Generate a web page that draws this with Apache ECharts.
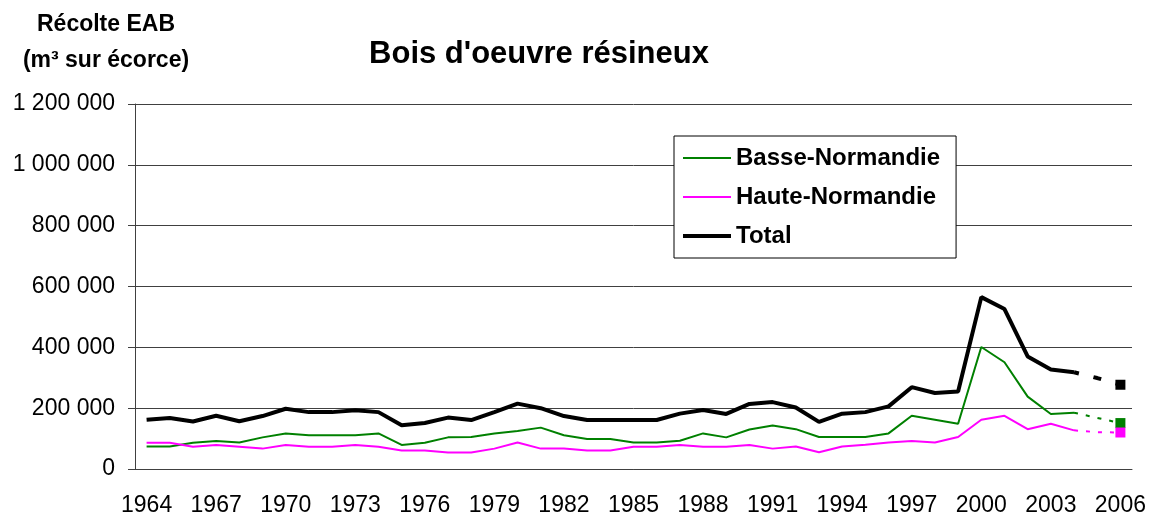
<!DOCTYPE html>
<html lang="fr">
<head>
    <meta charset="utf-8">
    <title>Bois d'oeuvre résineux</title>
    <script src="https://cdn.jsdelivr.net/npm/echarts@6/dist/echarts.min.js"></script>
    <style type="text/css">
        html, body { margin: 0; padding: 0; background: #fff; }
        #chart { width: 1150px; height: 517px; }
    </style>
</head>
<body>
    <div id="chart"></div>
    <script>
        // années 1964 -> 2006
        var years = ['1964', '1965', '1966', '1967', '1968', '1969', '1970', '1971', '1972', '1973',
            '1974', '1975', '1976', '1977', '1978', '1979', '1980', '1981', '1982', '1983',
            '1984', '1985', '1986', '1987', '1988', '1989', '1990', '1991', '1992', '1993',
            '1994', '1995', '1996', '1997', '1998', '1999', '2000', '2001', '2002', '2003',
            '2004', '2005', '2006'];

        // récolte observée 1964 -> 2004 (m3 sur écorce)
        var basseNormandie = [74000, 74000, 86000, 92000, 87000, 104000, 117000, 111000, 111000, 111000,
            117000, 79000, 86000, 104000, 105000, 117000, 125000, 136000, 111000, 99000,
            99000, 87000, 87000, 93000, 117000, 104000, 130000, 143000, 131000, 105000,
            105000, 105000, 117000, 175000, 162000, 149000, 401000, 351000, 238000, 181000,
            185000];
        var hauteNormandie = [86000, 86000, 73000, 79000, 73000, 67000, 79000, 73000, 73000, 79000,
            73000, 61000, 61000, 54000, 54000, 67000, 87000, 67000, 67000, 61000,
            61000, 73000, 73000, 79000, 73000, 73000, 79000, 67000, 74000, 55000,
            74000, 80000, 87000, 92000, 87000, 105000, 162000, 175000, 131000, 149000,
            127000];
        var total = [162000, 168000, 156000, 175000, 157000, 174000, 198000, 187000, 187000, 193000,
            187000, 144000, 151000, 169000, 161000, 187000, 215000, 200000, 174000, 161000,
            161000, 161000, 161000, 182000, 194000, 181000, 214000, 220000, 202000, 155000,
            182000, 187000, 206000, 269000, 250000, 255000, 565000, 526000, 370000, 327000,
            318000];

        // prolongement 2004 -> 2006 (pointillés)
        var basseProj = [185000, 168000, 151000];
        var hauteProj = [127000, 121000, 120000];
        var totalProj = [318000, 299000, 277000];

        var font = 'Liberation Sans, Arial, sans-serif';

        function fmt(v) {
            return String(v).replace(/\B(?=(\d{3})+(?!\d))/g, ' ');
        }

        function proj(vals) {
            var out = [];
            var start = years.length - vals.length;
            for (var i = 0; i < years.length; i++) {
                if (i < start) {
                    out.push(null);
                } else if (i === years.length - 1) {
                    out.push({ value: vals[i - start], symbol: 'rect', symbolSize: 10 });
                } else {
                    out.push(vals[i - start]);
                }
            }
            return out;
        }

        function mainLine(name, data, color, width) {
            return {
                name: name,
                type: 'line',
                data: data,
                symbol: 'none',
                animation: false,
                lineStyle: { color: color, width: width },
                itemStyle: { color: color }
            };
        }

        function dashLine(name, data, color, width, dash, offset) {
            return {
                name: name,
                type: 'line',
                data: proj(data),
                symbol: 'none',
                animation: false,
                silent: true,
                lineStyle: { color: color, width: width, type: dash, dashOffset: offset },
                itemStyle: { color: color }
            };
        }

        var chart = echarts.init(document.getElementById('chart'));
        var option = {
            backgroundColor: '#fff',
            title: [{
                text: "Bois d'oeuvre résineux",
                left: 534,
                top: 34,
                textAlign: 'center',
                textStyle: { fontFamily: font, fontSize: 31, fontWeight: 'bold', color: '#000' }
            }, {
                text: 'Récolte EAB\n(m³ sur écorce)',
                left: 101,
                top: 2,
                textAlign: 'center',
                textStyle: { fontFamily: font, fontSize: 23, fontWeight: 'bold', color: '#000', lineHeight: 36 }
            }],
            legend: {
                data: [
                    { name: 'Basse-Normandie', icon: 'path://M0,0h48v2h-48z' },
                    { name: 'Haute-Normandie', icon: 'path://M0,0h48v2h-48z' },
                    { name: 'Total', icon: 'path://M0,0h48v4h-48z' }
                ],
                orient: 'vertical',
                left: 674,
                top: 136,
                padding: [10, 16, 10, 9],
                itemWidth: 48,
                itemHeight: 14,
                itemGap: 15,
                backgroundColor: '#fff',
                borderColor: '#000',
                borderWidth: 1,
                textStyle: { fontFamily: font, fontSize: 24, fontWeight: 'bold', color: '#000' }
            },
            grid: { left: 135, right: 18, top: 104, bottom: 47, containLabel: false },
            xAxis: {
                type: 'category',
                data: years,
                boundaryGap: true,
                axisLine: { lineStyle: { color: '#404040', width: 1 } },
                axisTick: { interval: 0, length: 6, lineStyle: { color: '#404040' } },
                axisLabel: { interval: 2, margin: 25, fontFamily: font, fontSize: 23, color: '#000' },
                splitLine: { show: false }
            },
            yAxis: {
                type: 'value',
                min: 0,
                max: 1200000,
                interval: 200000,
                axisLine: { show: true, lineStyle: { color: '#404040', width: 1 } },
                axisTick: { show: true, length: 7, lineStyle: { color: '#404040' } },
                axisLabel: { margin: 20, fontFamily: font, fontSize: 23, color: '#000', formatter: fmt },
                splitLine: { show: true, lineStyle: { color: '#404040', width: 1 } }
            },
            series: [
                mainLine('Basse-Normandie', basseNormandie, '#008000', 2),
                mainLine('Haute-Normandie', hauteNormandie, '#ff00ff', 2),
                mainLine('Total', total, '#000000', 4),
                dashLine('Basse-Normandie prolongement', basseProj, '#008000', 2, [4, 8], 0),
                dashLine('Haute-Normandie prolongement', hauteProj, '#ff00ff', 2, [4, 8], 0),
                dashLine('Total prolongement', totalProj, '#000000', 4, [8, 15], 3)
            ]
        };
        chart.setOption(option);
    </script>
</body>
</html>
